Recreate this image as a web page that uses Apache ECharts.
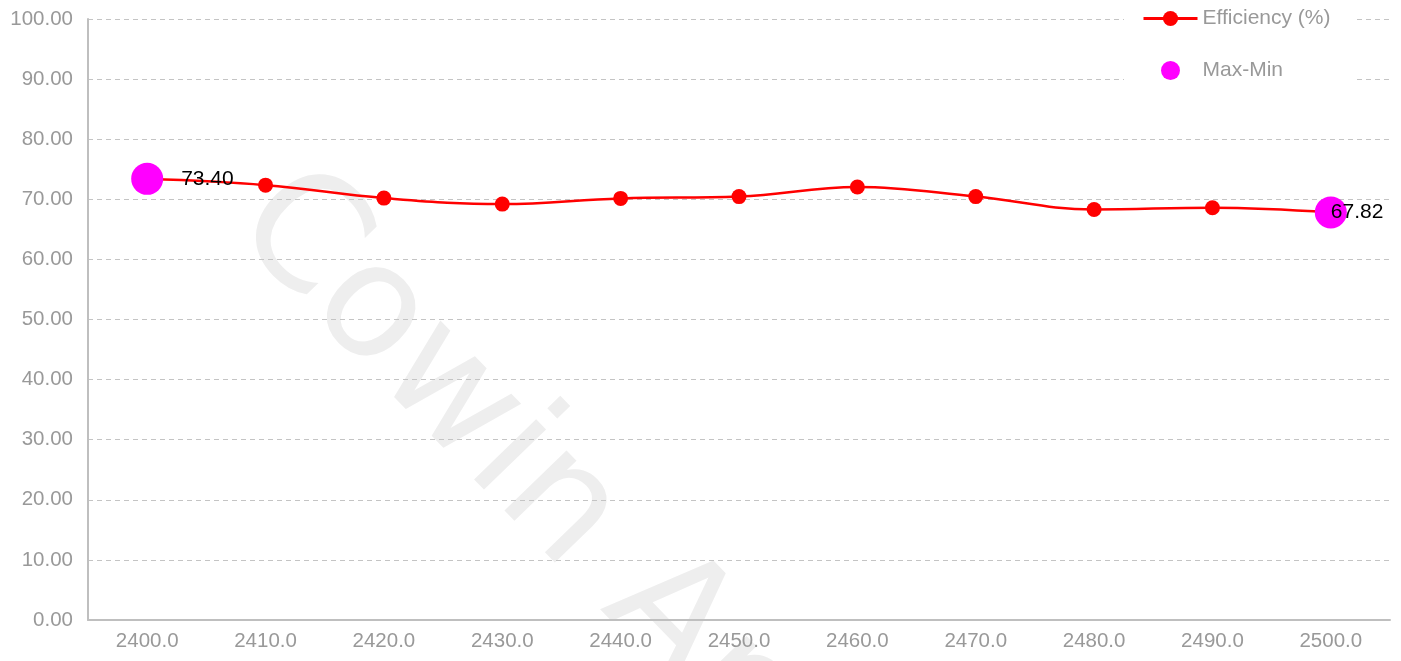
<!DOCTYPE html>
<html>
<head>
<meta charset="utf-8">
<script src="https://cdn.jsdelivr.net/npm/echarts@6/dist/echarts.min.js"></script>
<style>
  html, body { margin: 0; padding: 0; background: #fff; }
  #chart { width: 1401px; height: 661px; }
</style>
</head>
<body>
<div id="chart"></div>
<script>
// x categories (frequency)
var freqs = ['2400.0', '2410.0', '2420.0', '2430.0', '2440.0', '2450.0',
             '2460.0', '2470.0', '2480.0', '2490.0', '2500.0'];
// efficiency (%)
var efficiency = [73.40, 72.35, 70.20, 69.20, 70.15, 70.45, 72.05, 70.45, 68.30, 68.60, 67.82];
// max / min markers
var maxMin = [73.40, null, null, null, null, null, null, null, null, null, 67.82];

var font = 'Arial, "Liberation Sans", sans-serif';
var myChart = echarts.init(document.getElementById('chart'));

var option = {
    backgroundColor: '#fff',
    animation: false,
    textStyle: { fontFamily: font },
    grid: { left: 88, right: 11, top: 19, bottom: 41 },
    // watermark
    graphic: [{
        type: 'text',
        x: 259,
        y: 199,
        rotation: -0.8,
        z: -10,
        silent: true,
        style: {
            text: 'Cowin Antenna',
            fontSize: 158,
            fontFamily: '"DejaVu Sans", sans-serif',
            fill: '#eeeeee',
            align: 'left',
            verticalAlign: 'middle'
        }
    }],
    legend: {
        orient: 'vertical',
        left: 1124,
        top: 0,
        padding: [8, 24, 20, 18],
        backgroundColor: '#fff',
        itemWidth: 54,
        itemHeight: 19,
        itemGap: 31,
        lineStyle: { width: 3 },
        textStyle: { color: '#999', fontSize: 21, fontFamily: font },
        data: ['Efficiency (%)', 'Max-Min']
    },
    xAxis: {
        type: 'category',
        data: freqs,
        boundaryGap: true,
        axisLine: { lineStyle: { color: '#bfbfbf', width: 2 } },
        axisTick: { inside: true, length: 6, lineStyle: { color: '#bfbfbf', width: 1.5 } },
        axisLabel: { color: '#999', fontSize: 20.5, margin: 11, fontFamily: font }
    },
    yAxis: {
        type: 'value',
        min: 0,
        max: 100,
        interval: 10,
        axisLine: { show: true, lineStyle: { color: '#bfbfbf', width: 2 } },
        axisTick: { show: false },
        axisLabel: {
            color: '#999', fontSize: 20.5, margin: 15, fontFamily: font,
            formatter: function (v) { return v.toFixed(2); }
        },
        splitLine: { lineStyle: { color: '#c4c4c4', type: [5, 4], width: 1 } }
    },
    series: [
        {
            name: 'Efficiency (%)',
            type: 'line',
            data: efficiency,
            smooth: 0.4,
            symbol: 'circle',
            symbolSize: 15,
            itemStyle: { color: '#ff0000' },
            lineStyle: { color: '#ff0000', width: 2.5 },
            z: 2
        },
        {
            name: 'Max-Min',
            type: 'scatter',
            data: maxMin.map(function (v, i) {
                if (v == null) return null;
                return {
                    value: v,
                    label: i === 0
                        ? { position: 'right', distance: 18 }
                        : { position: 'right', distance: 0, offset: [-16, 0] }
                };
            }),
            symbolSize: 32,
            itemStyle: { color: '#ff00ff', opacity: 1 },
            label: {
                show: true,
                color: '#000',
                fontSize: 21,
                fontFamily: font,
                formatter: function (p) { return p.value.toFixed(2); }
            },
            z: 3
        }
    ]
};

myChart.setOption(option);
</script>
</body>
</html>
